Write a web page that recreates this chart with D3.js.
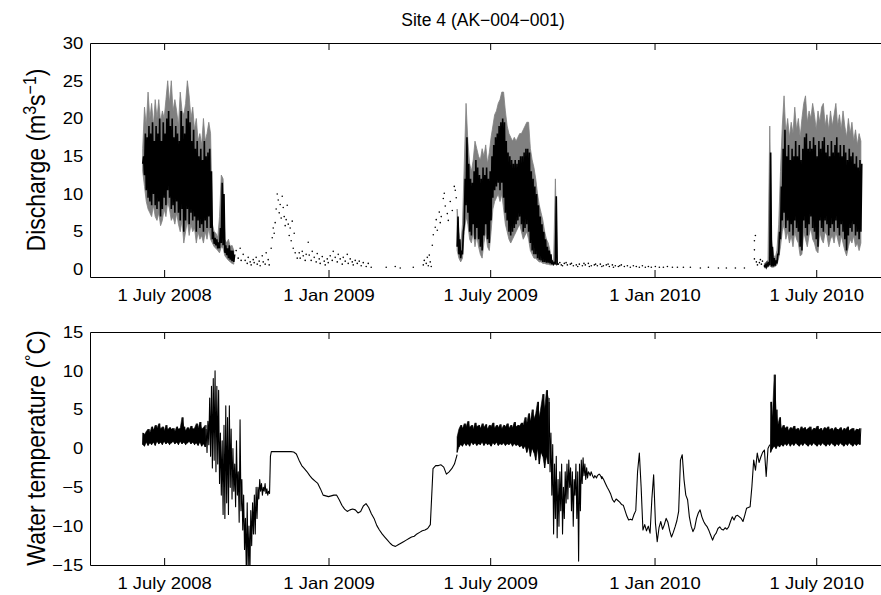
<!DOCTYPE html>
<html>
<head>
<meta charset="utf-8">
<script src="https://cdn.jsdelivr.net/npm/d3@7"></script>
<style>
  body { margin: 0; background: #fff; }
  text { font-family: "Liberation Sans", Arial, Helvetica, sans-serif; fill: #000; }
</style>
</head>
<body>
<svg width="881" height="595"></svg>
<script>
// ---- tick labels ----
const tickDates = ['2008-07-01', '2009-01-01', '2009-07-01', '2010-01-01', '2010-07-01'];
const tickLabels = ['1 July 2008', '1 Jan 2009', '1 July 2009', '1 Jan 2010', '1 July 2010'];
const qTicks = [0, 5, 10, 15, 20, 25, 30];
const tTicks = [-15, -10, -5, 0, 5, 10, 15];

// ---- discharge (m3/s): days since 1 July 2008, one sample every 2 days ----
const q08Start = -24;
const q08GrayHi = [16, 21.5, 19, 23.5, 20, 22, 19, 22.5, 20, 22.5, 19.5, 21, 20, 22.5, 25, 22, 25, 21, 22.5, 21, 19, 23.5, 21, 20.5, 22, 25, 23, 20, 21.5, 18.5, 20, 17, 18, 16.5, 20, 17, 18, 19.5, 18, 6, 5, 4.8, 4.2, 7, 12.5, 12, 4, 3.5, 4, 3, 3.2, 2.5];
const q08GrayLo = [13, 11, 9, 8, 7.5, 7, 8.5, 7, 6.5, 7.5, 5.8, 6.5, 8, 7, 9, 8, 6.5, 7, 6, 7.5, 6, 5, 6.5, 3.5, 5, 6.5, 4.5, 6, 5, 5.5, 3.5, 5, 4, 4.5, 3.5, 5, 4, 5.5, 4, 3.5, 3, 2.8, 2.5, 2.2, 3, 2.8, 1.8, 1.5, 1.2, 1, 0.8, 0.7];
const q08BlackHi = [15, 18, 17.5, 19, 18, 19.5, 17, 19, 18, 20, 17, 19.5, 18, 20, 21, 19, 20, 17.5, 19, 18, 17, 21, 19, 18, 20, 21, 19.5, 17, 18.5, 16, 17, 15, 16, 14.5, 17, 15, 15.5, 16, 13, 5, 4.2, 4, 3.6, 5.5, 11.5, 10, 3.2, 2.8, 3.2, 2.5, 2.5, 2];
const q08BlackLo = [14, 12.5, 10.5, 9.5, 9, 8.5, 10, 8.5, 8, 9, 7, 8, 9.5, 8.5, 10.5, 9.5, 8, 8.5, 7.5, 9, 7.5, 6.5, 8, 5, 6.5, 8, 6, 7.5, 6.5, 7, 5, 6.5, 5.5, 6, 5, 6.5, 5.5, 7, 5.5, 4, 3.4, 3.2, 2.8, 2.8, 3.5, 3.2, 2.2, 1.9, 1.5, 1.3, 1.1, 1];

const q09Start = 328;
const q09GrayHi = [8, 5, 3, 6, 14, 22, 17, 14, 13, 14.5, 17, 16, 15, 14.5, 16, 15, 16.5, 14, 15.5, 17.5, 19, 20.5, 21, 22, 22.5, 23.5, 23.5, 21, 19, 18, 17.5, 17, 17.5, 17, 17.5, 18, 18, 18.5, 19, 19.5, 19.5, 16, 14.5, 13.5, 12, 10, 8.5, 7.5, 6.5, 5, 4, 3.5, 2.5, 1.2, 1, 12, 1];
const q09GrayLo = [2.5, 1.5, 1, 1.5, 5, 7, 6, 4, 3.5, 5, 3, 4.5, 3, 2, 1.5, 3.5, 5, 3, 2.5, 5, 8, 9, 9.5, 10, 9, 10, 8, 6, 5, 4, 3.5, 4, 4.5, 5, 5.5, 6, 5, 4, 4.5, 5, 4, 2.5, 2, 1.5, 1.5, 1.2, 1, 1, 0.8, 0.8, 0.7, 0.7, 0.6, 0.6, 0.6, 0.7, 0.6];
const q09BlackHi = [7, 4, 2.5, 5, 12, 17.5, 14, 12, 11.5, 13, 14.5, 13.5, 12.5, 12, 13.5, 12.5, 13.5, 12, 13, 15, 16.5, 17.5, 18, 19, 19.5, 20, 19.5, 17, 15.5, 15, 14.5, 14, 14.5, 14, 14.5, 15, 15, 15.5, 16, 16, 15.5, 13, 12, 11, 10, 8.5, 7, 6, 5, 4, 3, 2.5, 2, 1, 0.9, 9.7, 0.8];
const q09BlackLo = [3, 2, 1.5, 2, 6, 8.5, 7.5, 5, 4.5, 6, 4, 5.5, 4, 3, 2.5, 4.5, 6, 4, 3.5, 6.5, 9.5, 10.5, 11, 11.5, 10.5, 11.5, 9.5, 7.5, 6.5, 5, 4.5, 5, 5.5, 6, 6.5, 7, 6, 5, 5.5, 6, 5, 3.5, 2.5, 2, 2, 1.5, 1.3, 1.2, 1, 1, 0.9, 0.9, 0.8, 0.7, 0.7, 0.8, 0.7];

const q10Start = 672;
const q10GrayHi = [0.8, 1, 1.2, 19, 4, 2, 1.5, 2.5, 6, 13, 19, 23, 18, 20, 17.5, 19.5, 18, 21.5, 18.5, 20, 17.5, 20, 22, 23, 19.5, 21, 20, 22, 20.5, 18.5, 21, 19.5, 21.5, 22, 19, 20.5, 18.5, 21, 19, 20.5, 22, 19, 20.5, 18.5, 21, 19, 17.5, 20, 18, 19.5, 17, 18.5, 16.5, 18, 17];
const q10GrayLo = [0.2, 0.2, 0.3, 0.5, 0.3, 0.3, 0.4, 0.6, 1.5, 3, 5, 6, 4, 5, 3.5, 4.5, 3, 5, 4, 3.5, 1.8, 2, 5, 4, 3, 4.5, 5.5, 4, 3.5, 2.5, 2.2, 5, 4, 3.5, 5, 4.5, 3, 4, 4.5, 3.5, 5, 4, 3, 4.5, 3.5, 2.5, 1.8, 3, 4, 3.5, 4.5, 3, 3.5, 2.5, 3.5];
const q10BlackHi = [0.6, 0.8, 1, 15.5, 3, 1.5, 1.2, 2, 5, 11, 16, 18.5, 15, 16.5, 14.5, 16, 15, 17, 15, 16.5, 14.5, 16, 17.5, 18, 16, 17, 16, 17.5, 16.5, 15, 17, 16, 17, 17.5, 15.5, 16.5, 15, 17, 15.5, 16.5, 17.5, 15.5, 16.5, 15, 16.5, 15.5, 14.5, 16, 15, 15.5, 14, 15, 13.5, 14.5, 14];
const q10BlackLo = [0.3, 0.3, 0.4, 0.6, 0.4, 0.4, 0.5, 0.8, 2, 4, 6.5, 7.5, 5.5, 6.5, 5, 6, 4.5, 6.5, 5.5, 5, 3, 2.5, 6.5, 5.5, 4.5, 6, 7, 5.5, 5, 4, 3, 6.5, 5.5, 5, 6.5, 6, 4.5, 5.5, 6, 5, 6.5, 5.5, 4.5, 6, 5, 4, 2.5, 4.5, 5.5, 5, 6, 4.5, 5, 4, 5];

// winter discharge points [day, value]
const qDots = [[80.6,2.5],[82.9,1.5],[85.1,2.8],[86.2,1.2],[88.5,2],[90.7,1.2],[93,0.8],[94.1,1.6],[96.3,1],[97.4,0.6],[99.7,1.3],[100.8,0.9],[103,1.6],[104.2,0.7],[106.4,1.1],[107.5,0.5],[109.8,1.8],[110.9,1],[113.1,0.7],[114.2,2.2],[116.5,1.3],[117.6,0.6],[119.8,2.8],[121,4.2],[122.1,5.5],[123.2,4.8],[124.3,6.2],[125.4,8],[126.6,10],[127.7,9.2],[128.8,7.5],[129.9,8.6],[131,6.8],[132.2,9.7],[133.3,8.2],[134.4,7],[135.5,5.8],[136.6,6.6],[137.8,8.5],[138.9,6],[140,4.5],[141.1,5.5],[142.2,3.8],[143.4,6.4],[144.5,2.8],[145.6,4.8],[146.7,2.2],[149,1.5],[151.2,2.2],[152.3,1.5],[154.6,2.4],[155.7,1.8],[157.9,1.2],[159,2],[161.3,3.6],[162.4,1.9],[164.6,1.2],[165.8,2.4],[168,1.6],[170.2,1],[171.4,2.1],[173.6,1.4],[174.7,0.8],[177,1.7],[179.2,1.1],[180.3,0.6],[182.6,1.4],[183.7,0.9],[185.9,1.8],[188.2,1.2],[189.3,2.4],[191.5,1.6],[193.8,1],[194.9,2],[197.1,1.4],[199.4,0.7],[200.5,1.6],[202.7,1.1],[205,2],[206.1,0.8],[208.3,1.4],[210.6,1],[211.7,0.6],[213.9,1.2],[216.2,0.8],[218.4,1.1],[220.6,0.5],[222.9,0.9],[226.2,0.4],[228.5,0.8],[231.8,0.3],[248.6,0.3],[258.7,0.4],[264.3,0.2],[278.9,0.3],[290.1,0.6],[291.2,1.2],[293.4,0.8],[294.6,1.6],[295.7,0.5],[296.8,1.9],[297.9,1],[299,0.4],[300.2,3.2],[301.3,4.6],[303.5,5.6],[304.6,6.6],[305.8,5.2],[308,7.6],[309.1,6.2],[310.2,7],[312.5,9.4],[313.6,10.1],[314.7,8.4],[317,7.4],[318.1,6.5],[320.3,9],[322.6,7.8],[324.8,11],[325.9,10.5],[327,9.5],
  [441.3,0.7],[443,0.9],[444.6,0.6],[446,0.5],[448,0.8],[450,0.9],[451.4,0.6],[454.7,0.7],[456,0.8],[458.1,0.5],[461.4,0.6],[463,0.4],[464.8,0.7],[468.2,0.5],[470,0.8],[471.5,0.6],[474.9,0.8],[476,0.4],[478.2,0.5],[481.6,0.6],[483,0.7],[485,0.5],[488.3,0.7],[490,0.4],[491.7,0.5],[495,0.6],[497,0.7],[498.4,0.4],[501.8,0.6],[503,0.3],[505.1,0.5],[508.5,0.4],[510,0.5],[511.8,0.6],[515.2,0.4],[518.6,0.5],[521.9,0.3],[525.3,0.5],[528.6,0.4],[532,0.3],[535.4,0.5],[538.7,0.3],[542.1,0.4],[545.4,0.3],[549.9,0.4],[554.4,0.3],[558.9,0.3],[563.4,0.4],[569,0.3],[574.6,0.3],[581.3,0.3],[589.1,0.3],[600.3,0.2],[609.3,0.3],[620.5,0.2],[629.4,0.2],[639.5,0.2],[649.6,0.2],[660.8,1.4],[660.8,2.6],[660.8,3.8],[661.9,4.5],[663,1],[664.2,0.6],[666.4,0.9],[667.5,1.3],[668.6,0.7],[669.8,1.1],[672,0.5]];

// ---- water temperature (deg C) ----
// summer bands: daily range, one sample every 2 days
const t08Start = -24;
const t08Hi = [2.0, 1.8, 2.2, 2.5, 2.0, 2.8, 2.4, 3.0, 2.6, 3.2, 2.5, 2.8, 2.3, 3.0, 2.4, 2.7, 2.5, 2.6, 2.2, 2.8, 2.5, 2.6, 4.0, 2.8, 2.3, 2.7, 2.4, 2.9, 2.5, 2.6, 3.2, 2.6, 3.4, 2.5, 2.7, 3.0];
const t08Lo = [0.5, 0.3, 0.8, 0.4, 0.7, 0.5, 0.8, 0.4, 0.9, 0.6, 0.8, 0.5, 0.9, 0.6, 0.8, 0.5, 0.7, 0.9, 0.6, 0.8, 0.5, 0.9, 0.6, 0.8, 0.5, 0.7, 0.9, 0.6, 0.8, 0.5, 0.7, 0.4, 0.8, 0.3, 0.6, 0.2];
const t09Start = 328;
const t09Hi = [1.5, 2.5, 3.0, 2.6, 3.2, 2.8, 3.5, 2.7, 3.0, 2.5, 3.3, 2.8, 3.0, 2.6, 3.2, 2.7, 3.1, 2.5, 3.0, 2.8, 3.3, 2.6, 3.0, 2.7, 3.1, 2.5, 3.0, 2.8, 3.2, 2.6, 3.0, 2.7, 3.4, 2.8, 3.0, 2.9, 3.3, 3.0, 4.0, 3.2, 4.5, 3.5, 5.0, 3.8, 4.5, 6.0, 4.0, 5.5, 7.0, 5.0, 7.5, 6.5];
const t09Lo = [-0.5, 0.2, 0.5, 0.3, 0.7, 0.4, 0.6, 0.3, 0.8, 0.5, 0.7, 0.4, 0.6, 0.5, 0.8, 0.4, 0.7, 0.5, 0.6, 0.3, 0.7, 0.5, 0.8, 0.4, 0.6, 0.5, 0.7, 0.4, 0.6, 0.5, 0.7, 0.3, 0.6, 0.4, 0.5, 0.2, 0.4, 0, 0.3, -0.5, 0.2, -1, 0, -0.5, -1.5, 0, -2, -0.5, -1, -2.5, -1, -2];
const t10Start = 679;
const t10Hi = [6.0, 4.0, 9.5, 5.0, 3.0, 4.0, 2.5, 3.0, 2.6, 2.8, 2.3, 2.7, 2.5, 2.9, 2.4, 2.6, 2.3, 2.8, 2.5, 2.7, 2.4, 2.6, 2.8, 2.3, 2.6, 2.5, 2.9, 2.4, 2.6, 2.3, 2.7, 2.5, 2.8, 2.4, 2.6, 2.3, 2.7, 2.5, 2.4, 2.7, 2.3, 2.6, 2.4, 2.8, 2.3, 2.5, 2.6, 2.2, 2.5, 2.4, 2.6];
const t10Lo = [-0.5, 0.0, 0.3, 0.0, 0.4, 0.2, 0.5, 0.3, 0.6, 0.4, 0.7, 0.3, 0.6, 0.4, 0.7, 0.5, 0.3, 0.6, 0.4, 0.7, 0.5, 0.3, 0.6, 0.4, 0.7, 0.5, 0.3, 0.6, 0.4, 0.7, 0.5, 0.3, 0.6, 0.4, 0.7, 0.5, 0.3, 0.6, 0.4, 0.7, 0.5, 0.3, 0.6, 0.4, 0.7, 0.5, 0.3, 0.6, 0.4, 0.6, 0.5];

// autumn / winter traces
const tAut08Start = 47;   // daily
const tAut08 = [2.5, -0.5, 3.5, 0.5, 6.5, -1, 8, -2.5, 9, -1.5, 10, -3, 8, -2, 7.5, -4.5, 2, -6, 1, -8.5, 3, -9, 5.5, -7, 4, -8.5, 5.5, -5, 2.5, -6.5, 0, -5.5, -2, -7.5, 1, -6, -3, -9.5, 3.7, -8, -4, -10.5, -6, -13, -9, -16, -7, -16, -10, -16, -8, -12.5, -7, -11, -6, -11, -5, -9, -5, -6.5, -4, -5.5, -4.5, -6, -5, -5.5, -4.5, -5.8, -5.2, -6, -5.5, -5.8, -1, -0.4, -0.4];
const tWin08Start = 121;  // every 3 days
const tWin08 = [-0.4, -0.4, -0.4, -0.4, -0.4, -0.4, -0.4, -0.4, -0.45, -0.7, -1.5, -2.2, -2.6, -3.0, -3.5, -3.9, -4.2, -4.5, -5.2, -6.0, -6.1, -6.2, -6.1, -6.0, -6.0, -6.6, -7.3, -7.8, -8.1, -7.9, -7.8, -7.9, -8.3, -8.1, -7.4, -7.1, -7.6, -8.4, -9.0, -9.9, -10.5, -11.0, -11.4, -11.8, -12.2, -12.5, -12.6, -12.4, -12.2, -12.0, -11.8, -11.6, -11.4, -11.3, -11.0, -10.8, -10.6, -10.5, -10.3, -9.8, -2.6, -2.2, -2.2, -2.1, -2.4, -3.3, -3.0, -2.6, -2.0, -0.8];
const tAut09Start = 431;  // daily
const tAut09 = [6, -3, 2, -6, 0.5, -11, -2, -9, -1, -11.5, -4, -10, -3, -8, -2, -11, -5, -9, -3, -7, -2, -6.5, -1.5, -5, -2.5, -8, -3, -10, -4, -6, -2, -9, -3, -14.5, -2, -8, -1.5, -4.5, -1.2, -3.5, -2, -4, -2.5, -3.8, -3, -3.2, -3.5, -3, -3.3, -3.6, -3.8, -3.5, -3.6, -3.8, -3.5, -3.4, -3.3, -3.4, -3.6, -3.9];
const tWin09Start = 490;  // every 2 days
const tWin09 = [-3.6, -4.0, -4.5, -5.0, -5.4, -5.9, -6.6, -6.9, -6.5, -6.7, -6.9, -7.2, -7.3, -8.0, -8.7, -9.2, -9.1, -9.2, -8.5, -8.0, -3.0, -0.6, -5.0, -10.5, -9.8, -10.6, -10.0, -10.9, -6.5, -3.4, -9.6, -12.0, -10.2, -9.4, -10.4, -9.8, -9.0, -9.5, -10.6, -11.4, -10.8, -10.1, -9.3, -8.1, -1.5, -0.8, -4.0, -6.0, -6.6, -8.8, -10.0, -10.7, -10.2, -9.0, -8.3, -7.9, -8.8, -9.4, -9.8, -10.1, -10.6, -11.2, -11.8, -11.2, -10.9, -10.3, -10.1, -10.4, -10.5, -10.2, -10.4, -10.1, -9.4, -8.8, -9.2, -8.7, -8.6, -8.8, -9.0, -9.4, -8.6, -7.7, -7.6, -7.5, -4.9, -1.5, -2.8, -0.6, -1.8, -1.1, -0.5, -0.2, -3.6, 0.0, 0.5];

// ---- chart ----
const svg = d3.select('svg');
const parse = d3.timeParse('%Y-%m-%d');
const origin = parse('2008-07-01');
const dayDate = d => new Date(origin.getTime() + d * 86400000);
const tickDateObjs = tickDates.map(parse);

const x = d3.scaleTime()
    .domain([parse('2008-04-09'), parse('2010-09-16')])
    .range([90, 885]);

const yQ = d3.scaleLinear().domain([-1, 30]).range([277, 43]);
const yT = d3.scaleLinear().domain([-15, 15]).range([565, 332]);

const band = (start, step, hi, lo) => hi.map((h, i) => ({d: dayDate(start + i * step), hi: h, lo: lo[i]}));
const trace = (start, step, vals) => vals.map((v, i) => ({d: dayDate(start + i * step), v}));
// one sample = low then high, half a step apart (diurnal swing)
const swing = (start, step, hi, lo) => hi.flatMap((h, i) => [
    {d: dayDate(start + i * step), v: lo[i]},
    {d: dayDate(start + i * step + step / 2), v: h}
]);
const minus = d => d < 0 ? '\u2212' + Math.abs(d) : String(d);

function panel(id, y, y0, y1, ticks) {
    const g = svg.append('g');
    svg.append('clipPath').attr('id', id)
        .append('rect').attr('x', 90).attr('y', y0).attr('width', 795).attr('height', y1 - y0);
    const plot = g.append('g').attr('clip-path', `url(#${id})`);

    g.append('g').attr('transform', `translate(0,${y1})`)
        .call(d3.axisBottom(x).tickValues(tickDateObjs).tickFormat((d, i) => tickLabels[i])
            .tickSizeInner(-7).tickSizeOuter(0).tickPadding(12.5));
    g.append('g').attr('transform', `translate(0,${y0})`)
        .call(d3.axisTop(x).tickValues(tickDateObjs).tickFormat('')
            .tickSizeInner(-7).tickSizeOuter(0));
    g.append('g').attr('transform', 'translate(90,0)')
        .call(d3.axisLeft(y).tickValues(ticks).tickFormat(minus)
            .tickSize(0).tickSizeOuter(0).tickPadding(6));

    g.selectAll('.domain, .tick line').attr('stroke', '#000').attr('stroke-width', 1);
    g.selectAll('.tick text')
        .style('font-size', '16.5px')
        .attr('transform', 'scale(1.12,1)');
    g.selectAll('g').attr('font-family', null).attr('font-size', null);
    return plot;
}

// top panel: discharge
const pQ = panel('clipQ', yQ, 43, 277, qTicks);
const areaQ = d3.area().x(d => x(d.d)).y0(d => yQ(d.lo)).y1(d => yQ(d.hi));
const lineQ = d3.line().x(d => x(d.d)).y(d => yQ(d.v));
[[q08Start, q08GrayHi, q08GrayLo, q08BlackHi, q08BlackLo],
 [q09Start, q09GrayHi, q09GrayLo, q09BlackHi, q09BlackLo],
 [q10Start, q10GrayHi, q10GrayLo, q10BlackHi, q10BlackLo]].forEach(([s, gh, gl, bh, bl]) => {
    pQ.append('path').datum(band(s, 2, gh, gl)).attr('d', areaQ)
        .attr('fill', '#808080').attr('stroke', '#808080').attr('stroke-width', 0.8);
    pQ.append('path').datum(swing(s, 2, bh, bl)).attr('d', lineQ)
        .attr('fill', 'none').attr('stroke', '#000').attr('stroke-width', 1.6)
        .attr('stroke-linejoin', 'miter');
});
pQ.selectAll('circle.dot').data(qDots).enter().append('circle')
    .attr('class', 'dot')
    .attr('cx', d => x(dayDate(d[0])))
    .attr('cy', d => yQ(d[1]))
    .attr('r', 0.8)
    .attr('fill', '#000');

// bottom panel: water temperature
const pT = panel('clipT', yT, 332, 565, tTicks);
const areaT = d3.area().x(d => x(d.d)).y0(d => yT(d.lo)).y1(d => yT(d.hi));
const lineT = d3.line().x(d => x(d.d)).y(d => yT(d.v));
[[t08Start, t08Hi, t08Lo], [t09Start, t09Hi, t09Lo], [t10Start, t10Hi, t10Lo]].forEach(([s, hi, lo]) => {
    pT.append('path').datum(band(s, 2, hi, lo)).attr('d', areaT)
        .attr('fill', '#000').attr('stroke', '#000').attr('stroke-width', 0.6);
    pT.append('path').datum(swing(s, 2, hi, lo)).attr('d', lineT)
        .attr('fill', 'none').attr('stroke', '#000').attr('stroke-width', 1);
});
[trace(tAut08Start, 1, tAut08).concat(trace(tWin08Start, 3, tWin08)),
 trace(tAut09Start, 1, tAut09).concat(trace(tWin09Start, 2, tWin09))].forEach(pts => {
    pT.append('path').datum(pts).attr('d', lineT)
        .attr('fill', 'none').attr('stroke', '#000').attr('stroke-width', 1.1)
        .attr('stroke-linejoin', 'round');
});

// title
svg.append('text')
    .attr('x', 483).attr('y', 26)
    .attr('text-anchor', 'middle')
    .style('font-size', '17.5px')
    .text('Site 4 (AK\u2212004\u2212001)');

// y labels
const yl1 = svg.append('text')
    .attr('transform', 'translate(45,160) scale(1.1,1) rotate(-90)')
    .attr('text-anchor', 'middle')
    .style('font-size', '23px');
yl1.append('tspan').text('Discharge (m');
yl1.append('tspan').attr('dy', -8).style('font-size', '16px').text('3');
yl1.append('tspan').attr('dy', 8).text('s');
yl1.append('tspan').attr('dy', -8).style('font-size', '16px').text('\u22121');
yl1.append('tspan').attr('dy', 8).text(')');

const yl2 = svg.append('text')
    .attr('transform', 'translate(45,448) scale(1.1,1) rotate(-90)')
    .attr('text-anchor', 'middle')
    .style('font-size', '23px');
yl2.append('tspan').text('Water temperature (');
yl2.append('tspan').attr('dy', -6).style('font-size', '16px').text('\u00b0');
yl2.append('tspan').attr('dy', 6).text('C)');
</script>
</body>
</html>
